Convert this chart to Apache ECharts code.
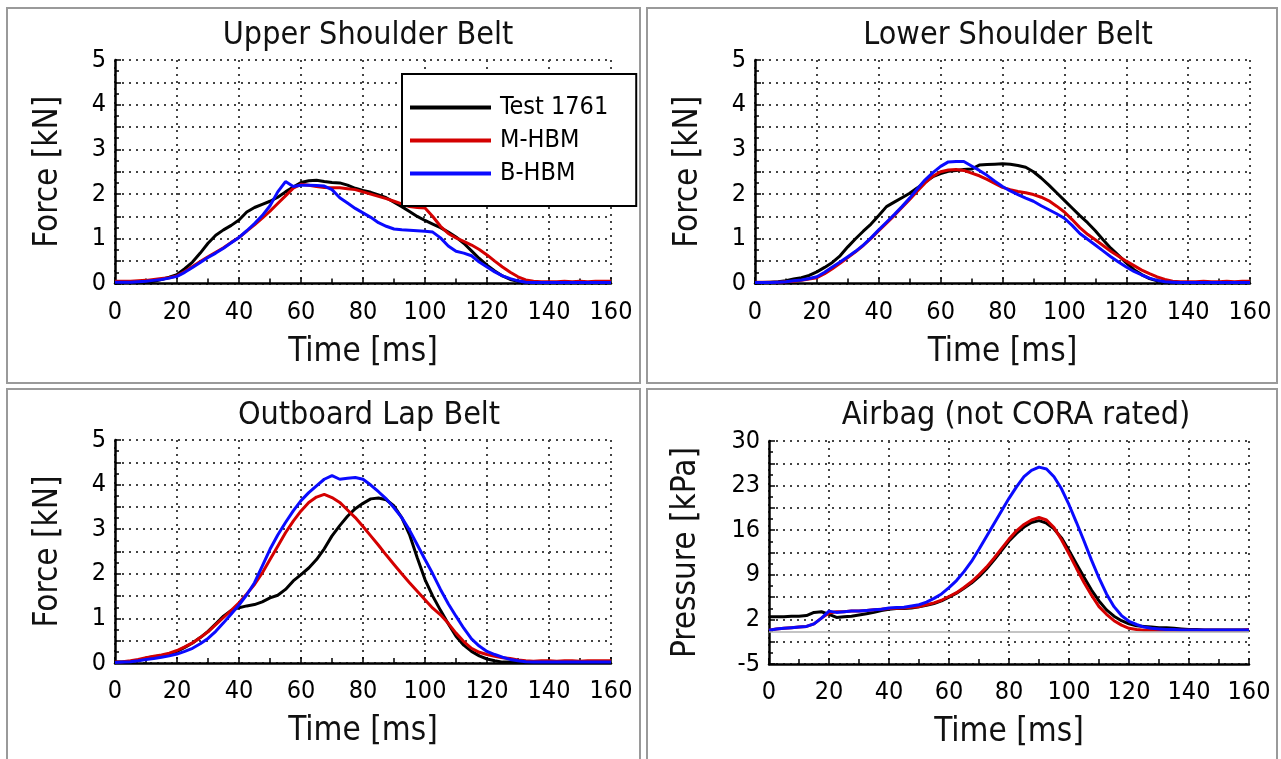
<!DOCTYPE html>
<html>
<head>
<meta charset="utf-8">
<script src="https://cdn.jsdelivr.net/npm/echarts@6/dist/echarts.min.js"></script>
<style>
html,body{margin:0;padding:0;background:#fff;}
#chart{width:1281px;height:759px;}
</style>
</head>
<body>
<div id="chart"></div>
<script>
const time = [0,2.5,5,7.5,10,12.5,15,17.5,20,22.5,25,27.5,30,32.5,35,37.5,40,42.5,45,47.5,50,52.5,55,57.5,60,62.5,65,67.5,70,72.5,75,77.5,80,82.5,85,87.5,90,92.5,95,97.5,100,102.5,105,107.5,110,112.5,115,117.5,120,122.5,125,127.5,130,132.5,135,137.5,140,142.5,145,147.5,150,152.5,155,157.5,160];

const seriesNames = ['Test 1761', 'M-HBM', 'B-HBM'];
const panelTitles = ['Upper Shoulder Belt', 'Lower Shoulder Belt', 'Outboard Lap Belt', 'Airbag (not CORA rated)'];
const yNames = ['Force [kN]', 'Force [kN]', 'Force [kN]', 'Pressure [kPa]'];
const xName = 'Time [ms]';

const upperTest = [0.02,0.02,0.02,0.02,0.03,0.05,0.09,0.14, 0.20,0.33,0.48,0.68,0.90,1.08,1.20,1.30, 1.42,1.60,1.70,1.77,1.84,1.93,2.05,2.16, 2.26,2.30,2.31,2.28,2.26,2.25,2.20,2.13, 2.08,2.04,1.98,1.92,1.82,1.72,1.61,1.50, 1.41,1.33,1.25,1.15,1.04,0.90,0.73,0.56, 0.41,0.28,0.17,0.09,0.05,0.03,0.02,0.02, 0.02,0.02,0.02,0.02,0.02,0.02,0.02,0.02, 0.02];
const upperM = [0.05,0.05,0.05,0.06,0.07,0.09,0.11,0.13, 0.17,0.27,0.38,0.49,0.60,0.70,0.80,0.92, 1.03,1.17,1.31,1.46,1.62,1.79,1.96,2.13, 2.22,2.20,2.17,2.15,2.14,2.14,2.12,2.10, 2.05,2.00,1.95,1.90,1.84,1.78,1.72,1.70, 1.69,1.50,1.28,1.12,1.02,0.94,0.86,0.76, 0.64,0.50,0.37,0.25,0.15,0.08,0.05,0.04, 0.04,0.04,0.05,0.04,0.05,0.04,0.05,0.05, 0.05];
const upperB = [0.03,0.03,0.03,0.04,0.05,0.07,0.09,0.12, 0.16,0.25,0.36,0.47,0.58,0.68,0.79,0.91, 1.03,1.18,1.34,1.52,1.74,2.05,2.28,2.17, 2.20,2.20,2.19,2.18,2.10,1.92,1.80,1.68, 1.58,1.48,1.36,1.28,1.22,1.20,1.19,1.18, 1.17,1.15,1.02,0.84,0.72,0.68,0.62,0.48, 0.37,0.26,0.17,0.11,0.06,0.03,0.02,0.02, 0.02,0.02,0.02,0.02,0.02,0.02,0.02,0.02, 0.02];

const lowerTest = [0.02,0.02,0.03,0.04,0.06,0.10,0.13,0.18, 0.26,0.36,0.47,0.62,0.82,1.00,1.17,1.33, 1.52,1.72,1.82,1.92,2.02,2.14,2.27,2.39, 2.46,2.51,2.53,2.55,2.56,2.65,2.66,2.67, 2.68,2.67,2.64,2.60,2.50,2.36,2.20,2.03, 1.86,1.69,1.52,1.36,1.18,0.98,0.79,0.63, 0.46,0.31,0.20,0.11,0.06,0.03,0.02,0.02, 0.02,0.02,0.02,0.02,0.02,0.02,0.02,0.02, 0.02];
const lowerM = [0.03,0.03,0.03,0.03,0.04,0.05,0.07,0.10, 0.13,0.22,0.33,0.45,0.58,0.71,0.85,1.01, 1.18,1.35,1.52,1.70,1.88,2.07,2.25,2.40, 2.50,2.54,2.55,2.53,2.47,2.41,2.33,2.24, 2.15,2.10,2.06,2.03,1.99,1.93,1.85,1.73, 1.60,1.43,1.25,1.10,0.98,0.85,0.72,0.61, 0.50,0.40,0.30,0.22,0.15,0.09,0.05,0.04, 0.04,0.04,0.05,0.04,0.04,0.05,0.04,0.05, 0.05];
const lowerB = [0.02,0.02,0.02,0.03,0.04,0.06,0.08,0.11, 0.15,0.25,0.37,0.48,0.60,0.72,0.86,1.02, 1.20,1.37,1.54,1.72,1.91,2.12,2.32,2.48, 2.62,2.72,2.73,2.73,2.63,2.53,2.42,2.29, 2.17,2.07,1.99,1.91,1.84,1.74,1.65,1.56, 1.46,1.30,1.12,0.99,0.86,0.73,0.60,0.48, 0.37,0.27,0.19,0.12,0.07,0.04,0.03,0.02, 0.02,0.02,0.02,0.02,0.02,0.02,0.02,0.02, 0.02];

const lapTest = [0.02,0.02,0.03,0.06,0.11,0.14,0.16,0.20, 0.26,0.35,0.45,0.57,0.71,0.88,1.05,1.18, 1.24,1.28,1.31,1.37,1.46,1.52,1.65,1.84, 1.98,2.13,2.32,2.56,2.85,3.08,3.29,3.46, 3.58,3.68,3.70,3.66,3.52,3.26,2.88,2.36, 1.87,1.50,1.18,0.88,0.60,0.40,0.26,0.16, 0.09,0.05,0.02,0.02,0.02,0.02,0.02,0.02, 0.02,0.02,0.02,0.02,0.02,0.02,0.02,0.02, 0.02];
const lapM = [0.02,0.03,0.05,0.08,0.12,0.15,0.18,0.22, 0.28,0.36,0.45,0.57,0.70,0.86,1.02,1.18, 1.35,1.55,1.76,2.02,2.32,2.62,2.92,3.18, 3.41,3.60,3.72,3.78,3.71,3.60,3.43,3.26, 3.06,2.85,2.64,2.42,2.21,2.00,1.80,1.61, 1.42,1.23,1.08,0.89,0.67,0.48,0.33,0.24, 0.19,0.15,0.12,0.10,0.07,0.05,0.04,0.05, 0.05,0.04,0.05,0.05,0.04,0.05,0.05,0.05, 0.05];
const lapB = [0.01,0.02,0.03,0.05,0.08,0.10,0.13,0.16, 0.20,0.26,0.33,0.43,0.55,0.71,0.90,1.10, 1.30,1.53,1.80,2.17,2.55,2.87,3.15,3.41, 3.64,3.82,3.97,4.12,4.20,4.12,4.14,4.16, 4.12,3.99,3.84,3.68,3.48,3.26,2.98,2.65, 2.32,2.00,1.65,1.33,1.05,0.78,0.54,0.38, 0.26,0.19,0.13,0.08,0.05,0.03,0.02,0.02, 0.02,0.02,0.02,0.02,0.02,0.02,0.02,0.02, 0.02];

const airTest = [2.4,2.4,2.4,2.5,2.5,2.6,3.1,3.2, 2.8,2.3,2.4,2.5,2.7,2.9,3.1,3.4, 3.6,3.7,3.7,3.8,4.0,4.2,4.5,4.9, 5.5,6.1,6.9,7.7,8.7,9.9,11.3,12.8, 14.3,15.5,16.5,17.2,17.5,17.1,16.2,14.8, 12.8,10.7,8.6,6.6,4.9,3.5,2.5,1.8, 1.3,1.0,0.9,0.8,0.7,0.7,0.6,0.5, 0.4,0.4,0.35,0.35,0.35,0.35,0.35,0.35, 0.35];
const airM = [0.3,0.5,0.6,0.7,0.8,0.9,1.3,2.2, 3.0,3.2,3.2,3.3,3.3,3.4,3.5,3.6, 3.7,3.75,3.8,3.9,4.0,4.3,4.6,5.0, 5.6,6.2,7.0,7.9,9.0,10.2,11.6,13.1, 14.6,15.9,16.9,17.6,18.0,17.6,16.4,14.5, 12.3,10.0,7.8,5.8,4.0,2.8,1.8,1.1, 0.6,0.4,0.3,0.3,0.3,0.3,0.3,0.3, 0.3,0.3,0.3,0.3,0.3,0.3,0.3,0.3, 0.4];
const airB = [0.3,0.5,0.6,0.7,0.8,0.9,1.3,2.2, 3.3,3.1,3.2,3.3,3.3,3.4,3.5,3.6, 3.8,3.85,3.9,4.1,4.3,4.7,5.3,6.0, 7.0,8.1,9.5,11.1,13.0,15.0,17.0,19.0, 21.0,22.8,24.4,25.4,25.9,25.6,24.4,22.5, 20.0,17.2,14.3,11.3,8.5,6.0,4.0,2.6, 1.7,1.2,0.8,0.6,0.5,0.4,0.4,0.35, 0.35,0.35,0.35,0.35,0.35,0.35,0.35,0.35, 0.35];

const panelData = [
  [upperTest, upperM, upperB],
  [lowerTest, lowerM, lowerB],
  [lapTest, lapM, lapB],
  [airTest, airM, airB]
];

const FONT = "'DejaVu Sans Condensed', 'DejaVu Sans', sans-serif";
const colors = ['#000000', '#d40000', '#0a0aff'];

const grids = [
  {left: 115, top: 60, width: 496, height: 223.5},
  {left: 755, top: 60, width: 495, height: 223.5},
  {left: 115, top: 440, width: 496, height: 223},
  {left: 769, top: 441, width: 480, height: 223}
];
const titleX = [363, 1003, 364, 1011];
const titleY = [15, 15, 395, 395];
const yNameGap = [50, 50, 50, 66];

const gridLine = {show: true, lineStyle: {color: '#444', width: 2, type: [2, 5]}};
const tickStyle = {color: '#000', width: 1.5};

const xAxes = grids.map((g, i) => ({
  type: 'value', gridIndex: i, min: 0, max: 160, interval: 20,
  name: xName, nameLocation: 'middle', nameGap: 52,
  nameTextStyle: {fontSize: 33, color: '#111', fontFamily: FONT},
  axisLine: {show: true, onZero: false, lineStyle: {color: '#000', width: 2.5}},
  axisTick: {show: true, inside: true, length: 6, lineStyle: tickStyle},
  minorTick: {show: true, splitNumber: 2, length: 5, lineStyle: tickStyle},
  axisLabel: {fontSize: 25, color: '#000', margin: 16, fontFamily: FONT},
  splitLine: gridLine
}));

const yAxes = grids.map((g, i) => {
  const air = i === 3;
  return {
    type: 'value', gridIndex: i,
    min: air ? -5 : 0, max: air ? 30 : 5, interval: air ? 3.5 : 0.5,
    name: yNames[i], nameLocation: 'middle', nameGap: yNameGap[i],
    nameTextStyle: {fontSize: 33, color: '#111', fontFamily: FONT},
    axisLine: {show: true, onZero: false, lineStyle: {color: '#000', width: 2.5}},
    axisTick: {show: true, inside: true, length: 6, lineStyle: tickStyle},
    minorTick: {show: true, splitNumber: 2, length: 4, lineStyle: tickStyle},
    axisLabel: {
      fontSize: 25, color: '#000', margin: 9, fontFamily: FONT,
      formatter: function (v) {
        if (air) {
          const k = (v + 5) / 7;
          return Math.abs(k - Math.round(k)) < 1e-6 ? String(Math.round(v)) : '';
        }
        return Math.abs(v - Math.round(v)) < 1e-6 ? String(Math.round(v)) : '';
      }
    },
    splitLine: gridLine
  };
});

const series = [];
panelData.forEach((set, p) => {
  set.forEach((vals, s) => {
    const item = {
      type: 'line', name: seriesNames[s], xAxisIndex: p, yAxisIndex: p,
      data: time.map((t, k) => [t, vals[k]]),
      showSymbol: false, symbol: 'none', color: colors[s],
      lineStyle: {width: 3, color: colors[s]},
      animation: false
    };
    if (p === 3 && s === 0) {
      item.markLine = {
        silent: true, symbol: 'none', label: {show: false},
        lineStyle: {color: '#b0b0b0', width: 1.5, type: 'solid'},
        data: [{yAxis: 0}], animation: false
      };
    }
    series.push(item);
  });
});

const frames = [
  [7, 8, 633, 375], [647, 8, 630, 375],
  [7, 389, 633, 380], [647, 389, 630, 380]
].map(r => ({
  type: 'rect', silent: true, z: 0,
  shape: {x: r[0], y: r[1], width: r[2], height: r[3]},
  style: {fill: null, stroke: '#9a9a9a', lineWidth: 2}
}));

const chart = echarts.init(document.getElementById('chart'), null, {renderer: 'canvas'});
chart.setOption({
  animation: false,
  backgroundColor: '#fff',
  title: panelTitles.map((t, i) => ({
    text: t, left: titleX[i], top: titleY[i], textAlign: 'center',
    textStyle: {fontSize: 32, fontWeight: 'normal', color: '#111', fontFamily: FONT}
  })),
  legend: {
    data: seriesNames, orient: 'vertical', left: 402, top: 74,
    icon: 'rect', itemWidth: 81, itemHeight: 4, itemGap: 8,
    padding: [21, 28, 20, 8],
    backgroundColor: '#fff', borderColor: '#000', borderWidth: 2,
    textStyle: {fontSize: 25, color: '#000', fontFamily: FONT, padding: [0, 0, 0, 4]},
    z: 10
  },
  grid: grids,
  xAxis: xAxes,
  yAxis: yAxes,
  series: series,
  graphic: frames
});
</script>
</body>
</html>
